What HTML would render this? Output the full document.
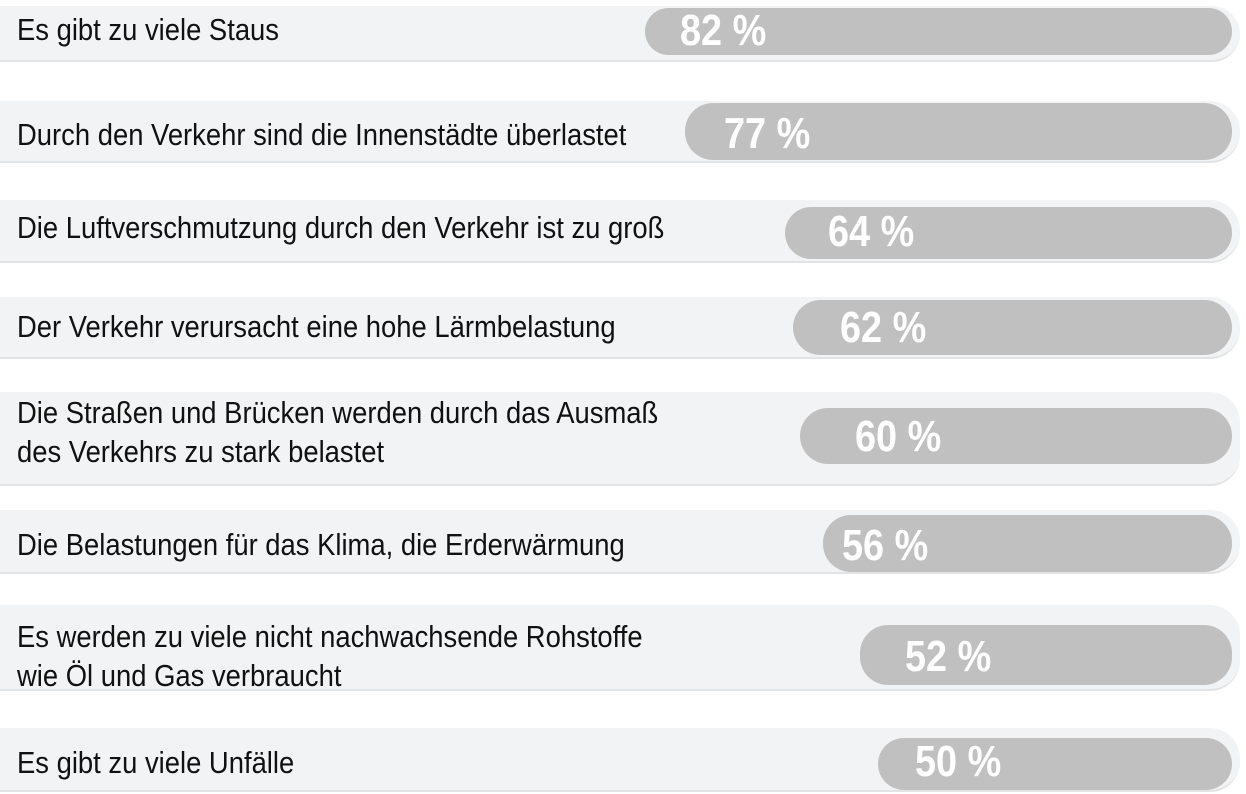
<!DOCTYPE html>
<html><head><meta charset="utf-8"><style>
body{margin:0;width:1246px;height:794px;background:#fff;position:relative;overflow:hidden;font-family:"Liberation Sans Narrow","Liberation Sans",sans-serif}
.band{position:absolute;left:0;width:1240px;background:#f2f3f4;border-bottom:2px solid #e2e3e4;border-radius:0 30px 30px 0}
.bar{position:absolute;right:14px;background:#c0c0c0;border-radius:28px}
.t{position:absolute;left:17px;font-size:31px;color:#111;line-height:36px;transform:scaleX(0.884);transform-origin:left;white-space:nowrap}
.t2{line-height:39px}
.p{position:absolute;color:#fff;font-weight:bold;font-size:44px;line-height:44px;transform:scaleX(0.86);transform-origin:left;white-space:nowrap}
</style></head><body>
<div class="band" style="top:6px;height:54px"></div>
<div class="bar" style="left:645px;top:8px;height:47px"></div>
<div class="t" style="top:12px">Es gibt zu viele Staus</div>
<div class="p" style="left:680px;top:9px">82 %</div>

<div class="band" style="top:101px;height:60px"></div>
<div class="bar" style="left:685px;top:103px;height:57px"></div>
<div class="t" style="top:117px">Durch den Verkehr sind die Innenstädte überlastet</div>
<div class="p" style="left:724px;top:112px">77 %</div>

<div class="band" style="top:200px;height:61px"></div>
<div class="bar" style="left:785px;top:207px;height:52px"></div>
<div class="t" style="top:210px">Die Luftverschmutzung durch den Verkehr ist zu groß</div>
<div class="p" style="left:828px;top:210px">64 %</div>

<div class="band" style="top:297px;height:60px"></div>
<div class="bar" style="left:793px;top:300px;height:55px"></div>
<div class="t" style="top:309px">Der Verkehr verursacht eine hohe Lärmbelastung</div>
<div class="p" style="left:840px;top:306px">62 %</div>

<div class="band" style="top:392px;height:92px"></div>
<div class="bar" style="left:800px;top:408px;height:56px"></div>
<div class="t t2" style="top:393px">Die Straßen und Brücken werden durch das Ausmaß<br>des Verkehrs zu stark belastet</div>
<div class="p" style="left:855px;top:415px">60 %</div>

<div class="band" style="top:510px;height:62px"></div>
<div class="bar" style="left:823px;top:515px;height:57px"></div>
<div class="t" style="top:527px">Die Belastungen für das Klima, die Erderwärmung</div>
<div class="p" style="left:842px;top:524px">56 %</div>

<div class="band" style="top:605px;height:84px"></div>
<div class="bar" style="left:860px;top:625px;height:60px"></div>
<div class="t t2" style="top:617px">Es werden zu viele nicht nachwachsende Rohstoffe<br>wie Öl und Gas verbraucht</div>
<div class="p" style="left:905px;top:635px">52 %</div>

<div class="band" style="top:728px;height:62px"></div>
<div class="bar" style="left:878px;top:738px;height:52px"></div>
<div class="t" style="top:745px">Es gibt zu viele Unfälle</div>
<div class="p" style="left:915px;top:740px">50 %</div>
</body></html>
